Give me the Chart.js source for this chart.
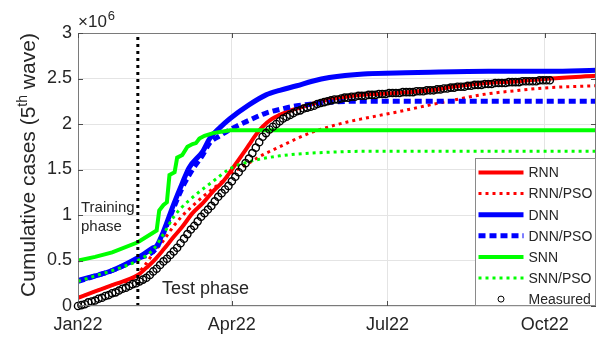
<!DOCTYPE html>
<html><head><meta charset="utf-8">
<script src="https://cdn.jsdelivr.net/npm/chart.js@4.4.1/dist/chart.umd.min.js"></script>
<style>html,body{margin:0;padding:0;background:#fff;}</style>
</head><body>
<canvas id="c" width="603" height="342"></canvas>
<script>
// ---- data (values in millions, x = days since 1 Jan 2022) ----
const tickDays = [0, 90, 181, 273];
const tickLabels = ['Jan22', 'Apr22', 'Jul22', 'Oct22'];
const yTicks = [0, 0.5, 1, 1.5, 2, 2.5, 3];
const xMaxDay = 303;
const trainEndDay = 35;

const rnnDays = [0,10,20,35,40,44,50,56,61,67,73,79,85,90,96,100,104,108,113,118,123,128,137,147,157,167,186,206,219,239,258,276,303];
const rnnVals = [0.09,0.16,0.23,0.34,0.42,0.49,0.62,0.76,0.87,1.02,1.13,1.26,1.37,1.50,1.66,1.77,1.88,1.97,2.05,2.10,2.14,2.17,2.22,2.27,2.30,2.32,2.34,2.37,2.41,2.45,2.47,2.50,2.53];

const rnnPsoDays = [0,10,20,35,37,40,44,50,56,61,67,73,79,85,90,99,108,118,128,137,147,157,167,186,206,219,239,258,276,303];
const rnnPsoVals = [0.09,0.16,0.23,0.34,0.40,0.47,0.58,0.72,0.88,0.99,1.10,1.20,1.29,1.38,1.46,1.56,1.66,1.75,1.84,1.91,1.97,2.02,2.06,2.13,2.21,2.26,2.33,2.37,2.40,2.42];

const dnnDays = [0,10,20,35,44,46,50,56,61,65,73,77,83,89,100,110,118,128,137,147,167,186,206,240,276,303];
const dnnVals = [0.28,0.33,0.39,0.53,0.64,0.66,0.82,1.12,1.35,1.52,1.70,1.84,1.96,2.06,2.21,2.32,2.37,2.42,2.47,2.51,2.55,2.56,2.57,2.58,2.58,2.59];

const dnnPsoDays = [0,10,20,35,46,50,56,61,67,73,77,83,89,100,110,118,128,137,147,167,186,206,240,303];
const dnnPsoVals = [0.27,0.33,0.39,0.52,0.64,0.80,1.08,1.30,1.50,1.66,1.79,1.87,1.94,2.04,2.12,2.16,2.20,2.22,2.24,2.25,2.25,2.25,2.25,2.25];

const snnDays = [0,10,20,35,46,47.5,50,52,53.5,56.5,58,61,64,67,69,71,74,79,89,100,303];
const snnVals = [0.50,0.54,0.59,0.70,0.83,1.05,1.11,1.14,1.44,1.47,1.63,1.66,1.75,1.78,1.79,1.84,1.87,1.90,1.93,1.93,1.93];

const snnPsoDays = [0,10,20,35,44,50,56,61,70,79,89,99,108,118,128,147,167,206,303];
const snnPsoVals = [0.27,0.33,0.39,0.50,0.62,0.79,0.98,1.09,1.24,1.37,1.51,1.58,1.62,1.65,1.67,1.69,1.70,1.70,1.70];

const measuredStep = 2; // one value every 2 days from Jan 1
const measuredVals = [
0.00,0.01,0.02,0.04,0.05,0.06,0.08,0.09,0.11,0.12,0.14,0.15,0.17,0.19,0.20,0.22,0.24,0.25,
0.27,0.29,0.31,0.34,0.38,0.41,0.45,0.49,0.52,0.56,0.60,0.64,0.69,0.74,0.79,0.84,0.88,0.93,0.98,1.02,
1.06,1.10,1.15,1.20,1.24,1.28,1.32,1.37,1.42,1.47,1.52,1.57,1.62,1.68,1.74,1.80,1.86,1.90,1.94,1.97,
2.00,2.03,2.06,2.08,2.10,2.12,2.14,2.15,2.17,2.18,2.19,2.20,2.22,2.23,2.24,2.25,2.26,2.27,2.27,2.28,
2.29,2.29,2.30,2.30,2.31,2.31,2.31,2.32,2.32,2.32,2.33,2.33,2.33,2.34,2.34,2.34,2.34,2.35,2.35,2.35,
2.35,2.36,2.36,2.36,2.37,2.37,2.37,2.38,2.38,2.39,2.39,2.40,2.40,2.41,2.41,2.41,2.42,2.42,2.43,2.43,
2.43,2.44,2.44,2.44,2.45,2.45,2.45,2.45,2.46,2.46,2.46,2.46,2.47,2.47,2.47,2.47,2.47,2.48,2.48,2.48,2.48];

// ---- build ----
const pts = (d, v) => d.map((x, i) => ({x: x, y: v[i]}));
const measuredPts = measuredVals.map((v, i) => ({x: i * measuredStep, y: v}));
const FONT = '"Liberation Sans", Arial, Helvetica, sans-serif';
const TXT = '#262626';

const datasets = [
  {label:'RNN', data:pts(rnnDays,rnnVals), borderColor:'#ff0000', borderWidth:4, cubicInterpolationMode:'monotone', order:6},
  {label:'RNN/PSO', data:pts(rnnPsoDays,rnnPsoVals), borderColor:'#ff0000', borderWidth:3, borderDash:[3,4], cubicInterpolationMode:'monotone', order:5},
  {label:'DNN', data:pts(dnnDays,dnnVals), borderColor:'#0000ff', borderWidth:5, cubicInterpolationMode:'monotone', order:4},
  {label:'DNN/PSO', data:pts(dnnPsoDays,dnnPsoVals), borderColor:'#0000ff', borderWidth:5, borderDash:[7,4], cubicInterpolationMode:'monotone', order:3},
  {label:'SNN', data:pts(snnDays,snnVals), borderColor:'#00ff00', borderWidth:4, order:2},
  {label:'SNN/PSO', data:pts(snnPsoDays,snnPsoVals), borderColor:'#00ff00', borderWidth:3, borderDash:[3,4], cubicInterpolationMode:'monotone', order:1},
  {label:'Measured', data:measuredPts, showLine:false, pointRadius:3.6, pointStyle:'circle', pointBorderColor:'#000000', pointBackgroundColor:'rgba(0,0,0,0)', pointBorderWidth:1.4, borderColor:'#000000', clip:false, order:0},
  {label:'', data:[{x:trainEndDay,y:0},{x:trainEndDay,y:3}], borderColor:'#000000', borderWidth:3, borderDash:[3,4], order:-1}
];
datasets.forEach(d => { if (d.pointRadius === undefined) d.pointRadius = 0; d.fill = false; });

const deco = {
  id: 'deco',
  afterDatasetsDraw(chart) {
    const ctx = chart.ctx;
    ctx.save();
    ctx.fillStyle = TXT;
    ctx.textAlign = 'left';
    ctx.textBaseline = 'alphabetic';
    ctx.font = '15px ' + FONT;
    ctx.fillText('Training', 81, 212);
    ctx.fillText('phase', 81, 231);
    ctx.font = '18px ' + FONT;
    ctx.fillText('Test phase', 162, 294);
    ctx.restore();
  },
  afterDraw(chart) {
    const ctx = chart.ctx, ca = chart.chartArea, xs = chart.scales.x, ys = chart.scales.y;
    ctx.save();
    // box
    ctx.strokeStyle = '#7a7a7a'; ctx.lineWidth = 1; ctx.setLineDash([]);
    ctx.strokeRect(Math.round(ca.left)+0.5, Math.round(ca.top)+0.5, Math.round(ca.right-ca.left)-1, Math.round(ca.bottom-ca.top)-1);
    // inner tick marks
    ctx.strokeStyle = '#4d4d4d';
    ctx.beginPath();
    tickDays.forEach(v => { const px = Math.round(xs.getPixelForValue(v)) + 0.5;
      ctx.moveTo(px, ca.bottom); ctx.lineTo(px, ca.bottom - 5);
      ctx.moveTo(px, ca.top); ctx.lineTo(px, ca.top + 5); });
    yTicks.forEach(v => { const py = Math.round(ys.getPixelForValue(v)) + 0.5;
      ctx.moveTo(ca.left, py); ctx.lineTo(ca.left + 5, py);
      ctx.moveTo(ca.right, py); ctx.lineTo(ca.right - 5, py); });
    ctx.stroke();
    // exponent label
    ctx.fillStyle = TXT; ctx.textAlign = 'left'; ctx.textBaseline = 'alphabetic';
    ctx.font = '17px ' + FONT;
    ctx.fillText('\u00d710', 78, 27);
    const w10 = ctx.measureText('\u00d710').width;
    ctx.font = '13px ' + FONT;
    ctx.fillText('6', 78 + w10 + 1, 20);
    // y title
    const p1 = 'Cumulative cases (5', p2 = 'th', p3 = ' wave)';
    ctx.font = '21px ' + FONT; const w1 = ctx.measureText(p1).width, w3 = ctx.measureText(p3).width;
    ctx.font = '14px ' + FONT; const w2 = ctx.measureText(p2).width;
    const tot = w1 + w2 + w3;
    ctx.translate(35, 165); ctx.rotate(-Math.PI / 2);
    let cx = -tot / 2;
    ctx.font = '21px ' + FONT; ctx.fillText(p1, cx, 0); cx += w1;
    ctx.font = '14px ' + FONT; ctx.fillText(p2, cx, -8); cx += w2;
    ctx.font = '21px ' + FONT; ctx.fillText(p3, cx, 0);
    ctx.setTransform(1, 0, 0, 1, 0, 0);
    // legend
    const items = chart.data.datasets.filter(d => d.label);
    const bw = 121, rowH = 21.1, bh = 148;
    const bx = Math.round(ca.right - bw) + 0.5, by = Math.round(ca.bottom - bh) + 0.5;
    ctx.fillStyle = '#ffffff'; ctx.fillRect(bx, by, bw - 1, bh - 1);
    ctx.strokeStyle = '#8a8a8a'; ctx.lineWidth = 1; ctx.strokeRect(bx, by, bw - 1, bh - 1);
    ctx.font = '14px ' + FONT; ctx.textBaseline = 'middle'; ctx.textAlign = 'left';
    items.forEach((d, i) => {
      const cy = by + 14 + i * rowH;
      if (d.showLine === false) {
        ctx.beginPath(); ctx.setLineDash([]); ctx.lineWidth = 1; ctx.strokeStyle = d.pointBorderColor;
        ctx.arc(bx + 25.5, cy, 3, 0, Math.PI * 2); ctx.stroke();
      } else {
        ctx.beginPath(); ctx.setLineDash(d.borderDash || []); ctx.lineWidth = d.borderWidth; ctx.strokeStyle = d.borderColor;
        ctx.moveTo(bx + 3, cy); ctx.lineTo(bx + 48, cy); ctx.stroke();
      }
      ctx.setLineDash([]);
      ctx.fillStyle = TXT; ctx.fillText(d.label, bx + 53, cy + 1);
    });
    ctx.restore();
  }
};

new Chart(document.getElementById('c'), {
  type: 'line',
  data: {datasets: datasets},
  options: {
    responsive: false, animation: false,
    layout: {padding: {left: 0, right: 7, top: 33, bottom: 0}},
    plugins: {legend: {display: false}, tooltip: {enabled: false}},
    scales: {
      x: {type: 'linear', min: 0, max: xMaxDay,
        afterBuildTicks: s => { s.ticks = tickDays.map(v => ({value: v})); },
        afterFit: s => { s.height = 36; },
        ticks: {callback: v => tickLabels[tickDays.indexOf(v)], font: {family: FONT, size: 18}, color: TXT, padding: 8, maxRotation: 0, autoSkip: false},
        grid: {color: '#e4e4e4', drawTicks: false}, border: {display: false}},
      y: {type: 'linear', min: 0, max: 3,
        afterBuildTicks: s => { s.ticks = yTicks.map(v => ({value: v})); },
        afterFit: s => { s.width = 78; },
        ticks: {callback: v => String(v), font: {family: FONT, size: 18}, color: TXT, padding: 6},
        grid: {color: '#e4e4e4', drawTicks: false}, border: {display: false}}
    }
  },
  plugins: [deco]
});
</script>
</body></html>
